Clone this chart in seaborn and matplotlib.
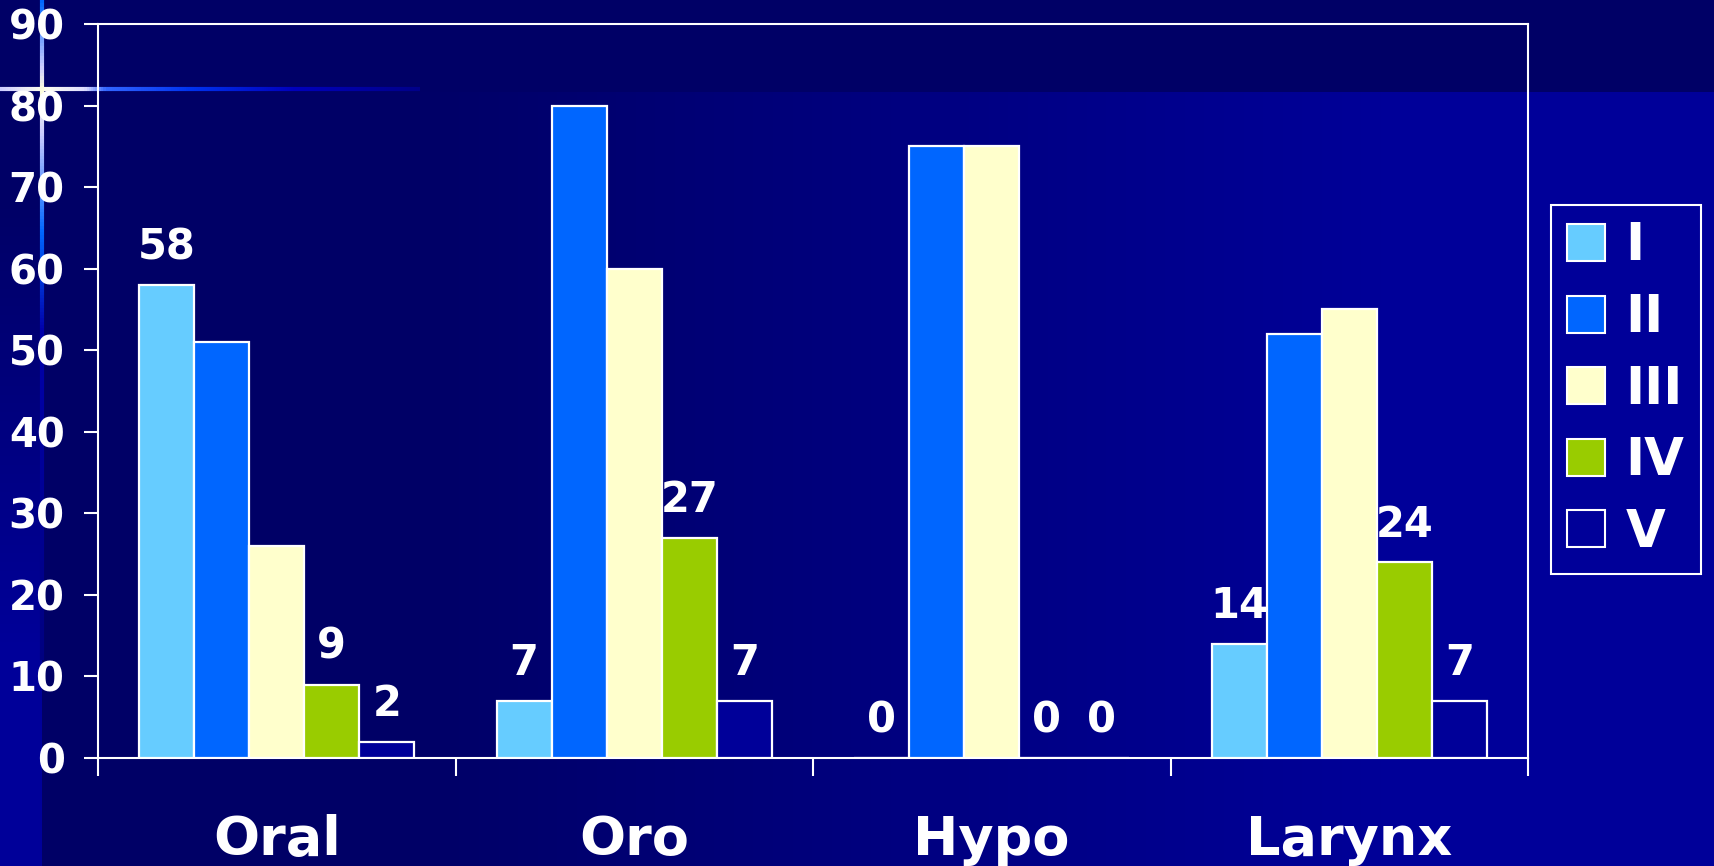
import matplotlib
matplotlib.use("Agg")
import matplotlib.pyplot as plt
import seaborn as sns
import pandas as pd
import numpy as np
from matplotlib.collections import LineCollection

# chart values
sites = ["Oral", "Oro", "Hypo", "Larynx"]
stages = ["I", "II", "III", "IV", "V"]
stage_I = [58, 7, 0, 14]
stage_II = [51, 80, 75, 52]
stage_III = [26, 60, 75, 55]
stage_IV = [9, 27, 0, 24]
stage_V = [2, 7, 0, 7]
labelled = ["I", "IV", "V"]

colors = ["#66CCFF", "#0066FF", "#FFFFCC", "#99CC00", "#000099"]

rows = []
for stage, vals in zip(stages, [stage_I, stage_II, stage_III, stage_IV, stage_V]):
    for site, v in zip(sites, vals):
        rows.append({"site": site, "stage": stage, "value": v})
df = pd.DataFrame(rows)

sns.set_theme(style="white")
plt.rcParams["font.family"] = ["DejaVu Sans"]
plt.rcParams["font.weight"] = "bold"

W, H = 1714, 866
fig = plt.figure(figsize=(W / 100, H / 100), dpi=100)

# slide background
bg = np.zeros((H, W, 3))
xs = np.arange(W)
t = np.clip((xs - 400) / 1000, 0, 1)
blue = (102 + 51 * t) / 255
bg[:, :, 2] = blue[None, :]
ys = np.arange(H)
tv = np.clip((ys - 200) / 450, 0, 1)
bg[:, :42, 2] = ((102 + 51 * tv) / 255)[:, None]
bg[:92, :, 2] = 102 / 255
bax = fig.add_axes([0, 0, 1, 1])
bax.imshow(bg, aspect="auto", extent=[0, W, H, 0], zorder=0)
bax.set_xlim(0, W)
bax.set_ylim(H, 0)
bax.axis("off")

# decorative cross lines
def grad_line(x0, y0, x1, y1, stops, n=200, lw=3):
    px = np.linspace(x0, x1, n)
    py = np.linspace(y0, y1, n)
    segs = np.stack([np.column_stack([px[:-1], py[:-1]]), np.column_stack([px[1:], py[1:]])], axis=1)
    pos = np.linspace(0, 1, n - 1)
    sp = np.array([s[0] for s in stops])
    cols = np.array([matplotlib.colors.to_rgba(s[1]) for s in stops])
    c = np.column_stack([np.interp(pos, sp, cols[:, k]) for k in range(4)])
    bax.add_collection(LineCollection(segs, colors=c, linewidths=lw, zorder=1))

grad_line(0, 89, 420, 89, [(0, "#ccccff"), (0.1, "#ffffee"), (0.2, "#ddddff"), (0.25, "#3366ff"),
                           (0.45, "#0033ee"), (0.7, "#0000bb"), (1, "#000088")])
grad_line(42, 0, 42, 660, [(0, "#0066ff"), (0.1, "#ccccff"), (0.135, "#ffffdd"), (0.2, "#ccccff"),
                           (0.35, "#0066ff"), (0.5, "#0000aa"), (1, "#000080")])

ax = fig.add_axes([98 / W, 1 - 758 / H, (1528 - 98) / W, (758 - 24) / H])
ax.patch.set_alpha(0)
sns.barplot(data=df, x="site", y="value", hue="stage", order=sites, hue_order=stages,
            palette=colors, width=0.77, gap=0, saturation=1, edgecolor="white",
            linewidth=1.6, ax=ax, zorder=3)

for cont, stage in zip(ax.containers, stages):
    if stage in labelled:
        ax.bar_label(cont, fmt="%d", padding=12, color="white", fontsize=30, fontweight="bold")

ax.set_xlim(-0.5, 3.5)
ax.set_ylim(0, 90)
ax.set_yticks(range(0, 91, 10))
ax.set_xticks([-0.5, 0.5, 1.5, 2.5, 3.5])
ax.set_xticklabels([])
ax.set_xticks(range(4), minor=True)
ax.set_xticklabels(sites, minor=True)
ax.tick_params(axis="x", which="major", direction="out", length=13, width=1.5, color="white", bottom=True)
ax.tick_params(axis="x", which="minor", length=0, pad=40, labelsize=39, labelcolor="white")
ax.tick_params(axis="y", direction="out", length=10, width=1.5, color="white", left=True,
               pad=14, labelsize=29, labelcolor="white")
for lab in ax.get_xticklabels(minor=True) + ax.get_yticklabels():
    lab.set_fontweight("bold")
for sp in ax.spines.values():
    sp.set_visible(True)
    sp.set_color("white")
    sp.set_linewidth(1.5)
ax.set_xlabel("")
ax.set_ylabel("")

ax.legend(loc="upper left", bbox_to_anchor=(1551 / W, 1 - 205 / H), bbox_transform=fig.transFigure,
          borderaxespad=0, frameon=True, facecolor="#000099", edgecolor="white", framealpha=1,
          fancybox=False, fontsize=37, labelcolor="white", handlelength=0.73, handleheight=0.73,
          handletextpad=0.4, labelspacing=0.42, borderpad=0.32, title=None)
leg = ax.get_legend()
leg.get_frame().set_linewidth(1.5)
for txt in leg.get_texts():
    txt.set_fontweight("bold")
for h in leg.legend_handles:
    h.set_edgecolor("white")
    h.set_linewidth(1.5)

fig.savefig("out.png", dpi=100)
